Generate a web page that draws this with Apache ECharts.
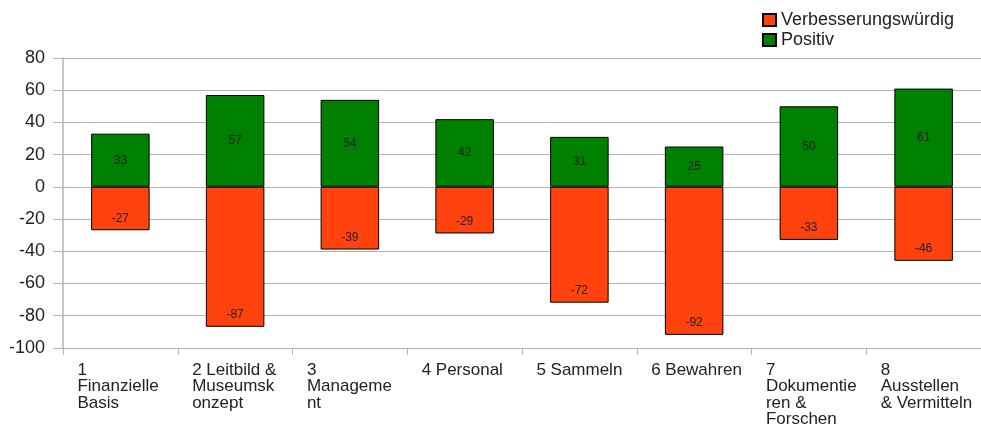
<!DOCTYPE html>
<html>
<head>
<meta charset="utf-8">
<script src="https://cdn.jsdelivr.net/npm/echarts@6/dist/echarts.min.js"></script>
<style>
html,body{margin:0;padding:0;background:#fff;}
#chart{width:981px;height:428px;}
</style>
</head>
<body>
<div id="chart"></div>
<script>
// Category labels (as wrapped in the reference)
const categories = [
  "1\nFinanzielle\nBasis",
  "2 Leitbild &\nMuseumsk\nonzept",
  "3\nManageme\nnt",
  "4 Personal",
  "5 Sammeln",
  "6 Bewahren",
  "7\nDokumentie\nren &\nForschen",
  "8\nAusstellen\n& Vermitteln"
];
const verbesserungswuerdig = [-27, -87, -39, -29, -72, -92, -33, -46];
const positiv = [33, 57, 54, 42, 31, 25, 50, 61];
const yTicks = { min: -100, max: 80, interval: 20 };

const FONT = "Liberation Sans";
const chart = echarts.init(document.getElementById('chart'), null, { renderer: 'canvas' });
const barLabel = {
  show: true,
  fontFamily: FONT,
  fontSize: 12,
  color: '#222'
};
chart.setOption({
  animation: false,
  textStyle: { fontFamily: FONT },
  legend: {
    orient: 'vertical',
    left: 757,
    top: 6,
    icon: 'rect',
    itemWidth: 13,
    itemHeight: 12,
    itemGap: 2,
    textStyle: { fontFamily: FONT, fontSize: 18, color: '#222' },
    data: ['Verbesserungswürdig', 'Positiv']
  },
  grid: { left: 63, right: -2, top: 58, bottom: 80, containLabel: false },
  xAxis: {
    type: 'category',
    data: categories,
    axisLine: { onZero: false, lineStyle: { color: '#b3b3b3', width: 1 } },
    axisTick: { show: true, length: 7, alignWithLabel: false, lineStyle: { color: '#b3b3b3' } },
    axisLabel: {
      interval: 0,
      margin: 14,
      color: '#222',
      fontFamily: FONT,
      fontSize: 17,
      lineHeight: 16.5,
      formatter: function (v) {
        return v.split('\n').map(function (s) { return '{a|' + s + '}'; }).join('\n');
      },
      rich: {
        a: { width: 86, align: 'left', fontFamily: FONT, fontSize: 17, lineHeight: 16.5, color: '#222' }
      }
    }
  },
  yAxis: {
    type: 'value',
    min: yTicks.min,
    max: yTicks.max,
    interval: yTicks.interval,
    axisLine: { show: true, lineStyle: { color: '#b3b3b3', width: 1.5 } },
    axisTick: { show: true, length: 10, lineStyle: { color: '#b3b3b3' } },
    axisLabel: { margin: 18, color: '#222', fontFamily: FONT, fontSize: 18 },
    splitLine: { show: true, lineStyle: { color: '#b3b3b3', width: 1 } }
  },
  series: [
    {
      name: 'Verbesserungswürdig',
      type: 'bar',
      stack: 'total',
      barWidth: '51%',
      data: verbesserungswuerdig,
      itemStyle: { color: '#ff420e', borderColor: '#000', borderWidth: 1 },
      label: Object.assign({ position: 'insideBottom', distance: 6 }, barLabel)
    },
    {
      name: 'Positiv',
      type: 'bar',
      stack: 'total',
      barWidth: '51%',
      data: positiv,
      itemStyle: { color: '#008000', borderColor: '#000', borderWidth: 1 },
      label: Object.assign({ position: 'inside' }, barLabel)
    }
  ]
});
</script>
</body>
</html>
